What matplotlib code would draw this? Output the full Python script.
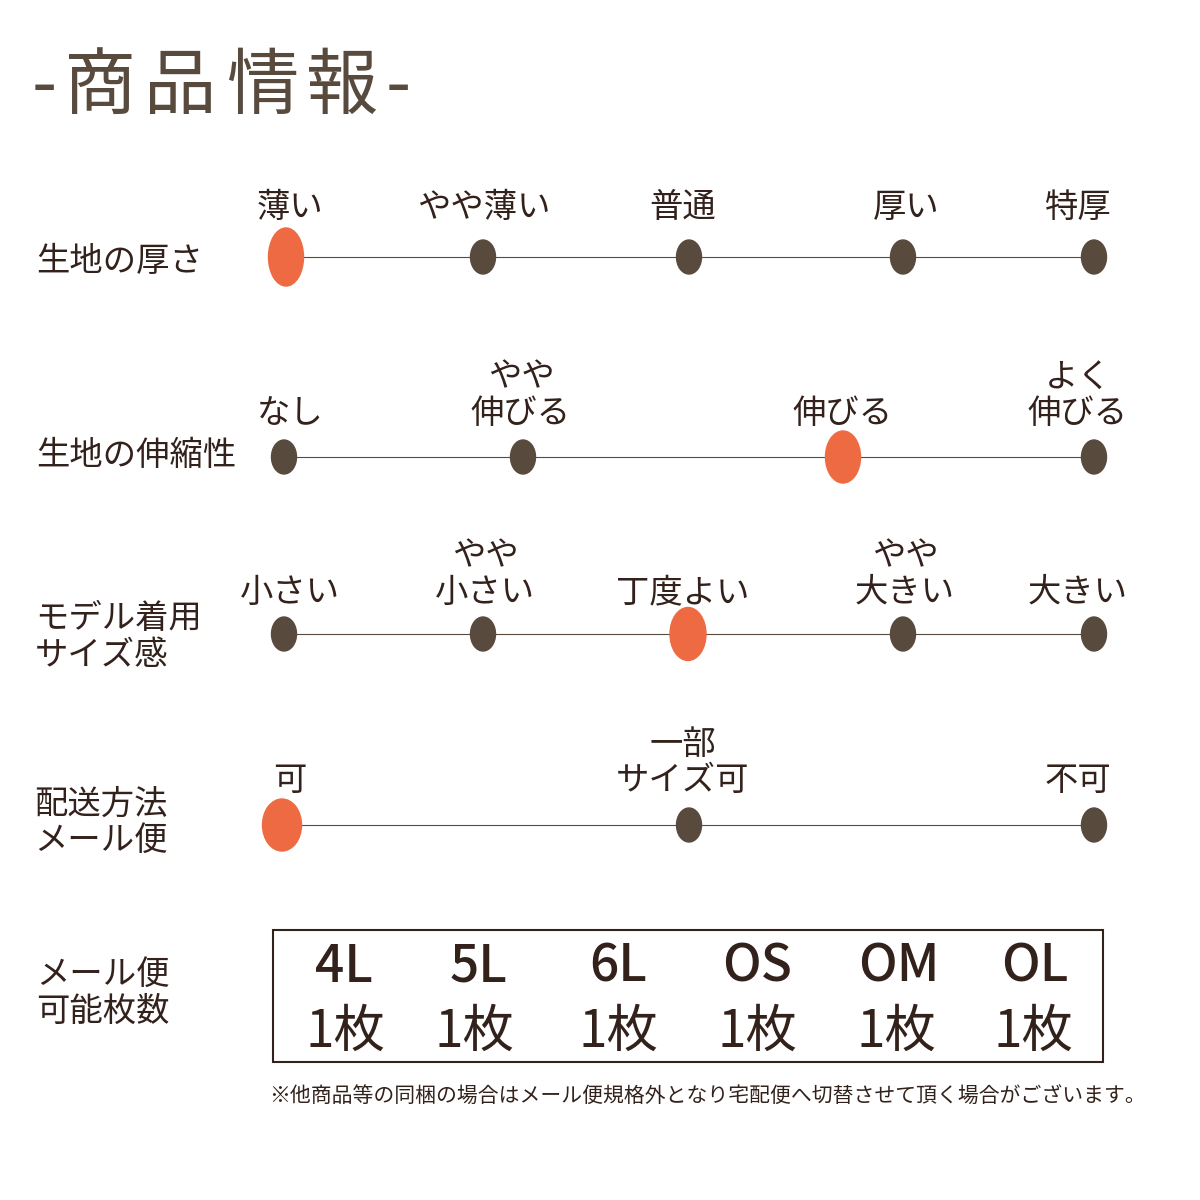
import matplotlib
matplotlib.use("Agg")
import matplotlib.pyplot as plt
from matplotlib.patches import Ellipse, Rectangle

plt.rcParams['font.family'] = ['Noto Sans CJK JP', 'DejaVu Sans']

BROWN = '#594a3e'
ORANGE = '#ee6a42'
TEXT = '#33221c'

title_chars = ['-', '商', '品', '情', '報', '-']
title_x = [44, 100, 180, 262, 342, 398]

row_labels = ['生地の厚さ', '生地の伸縮性', 'モデル着用\nサイズ感', '配送方法\nメール便', 'メール便\n可能枚数']
row_label_x = [36, 36, 35, 34, 36]
row_label_y = [262, 455, 637, 822, 993]

line_y = [257, 457, 634, 825]
line_start = [284, 284, 284, 282]

dot_x = [
    [286, 483, 689, 903, 1094],
    [284, 523, 843, 1094],
    [284, 483, 688, 903, 1094],
    [282, 689, 1094],
]
# index of the selected option per row
selected = [0, 2, 2, 0]
selected_size = [(35, 58), (35, 52), (36, 53), (39, 52)]

option_labels = [
    ['薄い', 'やや薄い', '普通', '厚い', '特厚'],
    ['なし', 'やや\n伸びる', '伸びる', 'よく\n伸びる'],
    ['小さい', 'やや\n小さい', '丁度よい', 'やや\n大きい', '大きい'],
    ['可', '一部\nサイズ可', '不可'],
]
option_x = [
    [290, 484, 683, 906, 1077],
    [290, 521, 843, 1078],
    [290, 485, 683, 905, 1078],
    [290, 683, 1078],
]
option_bottom = [225, 431, 610, 798]

sizes = ['4L', '5L', '6L', 'OS', 'OM', 'OL']
size_counts = ['1枚', '1枚', '1枚', '1枚', '1枚', '1枚']
size_x = [344, 479, 618, 757, 899, 1035]
count_x = [345, 474, 618, 757, 896, 1033]

note = '※他商品等の同梱の場合はメール便規格外となり宅配便へ切替させて頂く場合がございます。'

fig = plt.figure(figsize=(12, 12), dpi=100)
ax = fig.add_axes([0, 0, 1, 1])
ax.set_xlim(0, 1200)
ax.set_ylim(1200, 0)
ax.axis('off')

for ch, x in zip(title_chars, title_x):
    ax.text(x, 87, ch, fontsize=52, color=BROWN, ha='center', va='center')

for label, x, y in zip(row_labels, row_label_x, row_label_y):
    ax.text(x, y, label, fontsize=24, color=TEXT, ha='left', va='center', linespacing=1.05)

for i in range(4):
    ax.plot([line_start[i], dot_x[i][-1]], [line_y[i], line_y[i]], color=BROWN, lw=0.8, zorder=1)
    for j, x in enumerate(dot_x[i]):
        if j == selected[i]:
            w, h = selected_size[i]
            ax.add_patch(Ellipse((x, line_y[i]), w, h, color=ORANGE, zorder=2))
        else:
            ax.add_patch(Ellipse((x, line_y[i]), 25, 34, color=BROWN, zorder=2))
    for label, x in zip(option_labels[i], option_x[i]):
        ax.text(x, option_bottom[i], label, fontsize=24, color=TEXT, ha='center', va='bottom',
                linespacing=1.05)

ax.add_patch(Rectangle((273, 930), 830, 132, fill=False, edgecolor=TEXT, lw=1.5))
for s, x in zip(sizes, size_x):
    ax.text(x, 967, s, fontsize=37, color=TEXT, ha='center', va='center', fontweight='medium')
for c, x in zip(size_counts, count_x):
    ax.text(x, 1032, c, fontsize=37, color=TEXT, ha='center', va='center')

ax.text(269, 1097, note, fontsize=15, color=TEXT, ha='left', va='center')

fig.savefig('out.png', dpi=100)
